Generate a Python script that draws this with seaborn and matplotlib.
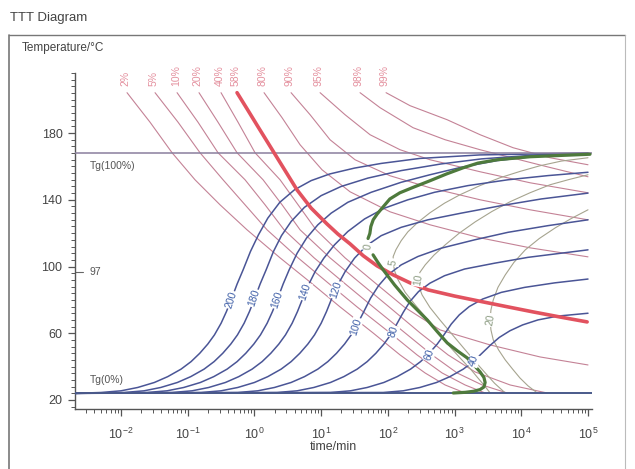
import numpy as np
import matplotlib
matplotlib.use('Agg')
import matplotlib.pyplot as plt
import seaborn as sns
from matplotlib.lines import Line2D
from matplotlib.ticker import LogLocator, MultipleLocator, FixedLocator, NullFormatter

sns.set_theme(style='white')
plt.rcParams['font.family'] = ['Liberation Sans', 'DejaVu Sans']
plt.rcParams['mathtext.default'] = 'regular'

# ---------------- data (log10 time / min, temperature / degC) ----------------
TG0 = 24
TG100 = 168
TGEL = 97

conv_labels = ['2%', '5%', '10%', '20%', '40%', '58%', '80%', '90%', '95%', '98%', '99%']
conv_2_logt = [-1.91, -1.565, -1.235, -0.891, -0.516, -0.111, 0.384, 0.849, 1.283, 1.778, 2.183, 2.558, 2.858, 3.158]
conv_2_T = [204.2, 186.5, 168.2, 152, 137, 122, 105.2, 90.2, 75.8, 60.2, 47, 36.2, 29, 24.2]
conv_5_logt = [-1.49, -1.145, -0.816, -0.471, -0.141, 0.189, 0.654, 1.103, 1.538, 2.033, 2.438, 2.813, 3.158, 3.458]
conv_5_T = [204.2, 186.5, 168.2, 152, 137, 122, 105.2, 90.2, 75.8, 60.2, 47, 36.2, 29, 24.2]
conv_10_logt = [-1.16, -0.846, -0.546, -0.141, 0.159, 0.444, 0.894, 1.343, 1.778, 2.258, 2.663, 3.038, 3.413, 3.788]
conv_10_T = [204.2, 186.5, 168.2, 152, 137, 122, 105.2, 90.2, 75.8, 60.2, 47, 36.2, 29, 24.2]
conv_20_logt = [-0.831, -0.546, -0.261, 0.129, 0.414, 0.684, 1.133, 1.583, 2.018, 2.483, 2.903, 3.308, 3.833, 4.387]
conv_20_T = [204.2, 186.5, 168.2, 152, 137, 122, 105.2, 90.2, 75.8, 60.2, 47, 36.8, 29, 24.2]
conv_40_logt = [-0.501, -0.246, 0.009, 0.384, 0.654, 0.924, 1.358, 1.808, 2.243, 2.783, 3.533, 4.282, 5.0]
conv_40_T = [204.2, 186.5, 168.2, 152, 137, 122, 105.2, 90.2, 75.8, 62, 53, 45.8, 41]
conv_58_logt = [-0.261, -0.1, 0.05, 0.234, 0.43, 0.639, 0.85, 1.088, 1.25, 1.433, 1.63, 1.838, 2.08,
                2.333, 2.603, 3.0, 3.427, 3.8, 4.177, 4.6, 4.987]
conv_58_T = [204.2, 193.8, 184, 172.1, 159.4, 145.9, 135, 125.5, 119.5, 113.6, 106.5, 100.4, 95,
             90.2, 86, 82.3, 78.8, 75.8, 72.8, 69.6, 66.8]
conv_80_logt = [0.144, 0.414, 0.684, 1.013, 1.433, 2.033, 2.633, 3.383, 4.132, 5.0]
conv_80_T = [204.2, 189.2, 173, 158, 144.8, 132.8, 125, 117.2, 111.2, 105.8]
conv_90_logt = [0.549, 0.834, 1.133, 1.508, 2.033, 2.633, 3.383, 4.132, 5.0]
conv_90_T = [204.2, 191, 176, 164, 154.4, 147.2, 140, 134, 128]
conv_95_logt = [0.984, 1.358, 1.733, 2.183, 2.633, 3.383, 4.132, 5.0]
conv_95_T = [204.2, 191, 179, 170, 164, 156.8, 150.2, 144.2]
conv_98_logt = [1.583, 1.883, 2.378, 2.858, 3.383, 4.387, 5.0]
conv_98_T = [204.2, 195.2, 183.2, 176, 170, 159.8, 153.8]
conv_99_logt = [1.973, 2.333, 2.888, 3.383, 3.878, 4.432, 5.0]
conv_99_T = [204.2, 196.4, 188, 179, 171.2, 165.2, 161]

# Tg evolution for isothermal cure temperatures
cure_labels = ['200', '180', '160', '140', '120', '100', '80', '60', '40']
tg_200_logt = [-2.69, -2.3, -2.0, -1.75, -1.5, -1.3, -1.1, -0.95, -0.82, -0.7, -0.6, -0.5, -0.42, -0.34,
               -0.26, -0.17, -0.06, 0.06, 0.2, 0.38, 0.6, 0.85, 1.13, 1.5, 1.9, 2.48, 3.38, 5.0]
tg_200_T = [24, 24.5, 25.5, 27.5, 30.5, 34, 38.5, 43, 48, 53.5, 59, 66, 73, 81,
            89.5, 98, 109, 119, 129, 138.5, 146, 151.5, 155.5, 159, 161.8, 164.8, 166.9, 168]
tg_180_logt = [-2.69, -1.955, -1.655, -1.405, -1.155, -0.955, -0.755, -0.605, -0.475, -0.355, -0.255,
               -0.155, -0.075, 0.005, 0.085, 0.175, 0.285, 0.405, 0.55, 0.75, 1.0, 1.3, 1.7, 2.2,
               2.8, 3.4, 4.2, 5.0]
tg_180_T = [24, 24.5, 25.5, 27.5, 30.5, 34, 38.5, 43, 48, 53.5, 59, 66, 73, 81, 89.5, 98, 109, 118.5,
            127, 135.5, 142.5, 148, 153, 157.5, 161.5, 164.5, 166.8, 168]
tg_160_logt = [-2.69, -1.61, -1.31, -1.06, -0.81, -0.61, -0.41, -0.26, -0.13, -0.01, 0.09, 0.19, 0.27,
               0.35, 0.43, 0.52, 0.64, 0.78, 0.95, 1.15, 1.4, 1.75, 2.2, 2.63, 3.1, 3.64, 4.3, 5.0]
tg_160_T = [24, 24.5, 25.5, 27.5, 30.5, 34, 38.5, 43, 48, 53.5, 59, 66, 73, 81, 89.5, 98, 108, 117,
            125, 132, 138.5, 144.5, 150.5, 155, 159.5, 163.5, 166.5, 167.5]
tg_140_logt = [-2.69, -1.235, -0.935, -0.685, -0.435, -0.235, -0.035, 0.115, 0.245, 0.365, 0.465,
               0.565, 0.645, 0.725, 0.81, 0.91, 1.04, 1.2, 1.4, 1.65, 1.95, 2.3, 2.7, 3.2, 3.8, 4.4, 5.0]
tg_140_T = [24, 24.5, 25.5, 27.5, 30.5, 34, 38.5, 43, 48, 53.5, 59, 66, 73, 81, 89, 97, 105, 113,
            121, 128.5, 135, 140, 144.5, 148.5, 152, 154.5, 156.5]
tg_120_logt = [-2.69, -0.8, -0.5, -0.25, 0.0, 0.2, 0.4, 0.55, 0.68, 0.8, 0.9, 1.0, 1.08, 1.16, 1.25,
               1.36, 1.5, 1.68, 1.9, 2.2, 2.6, 3.1, 3.7, 4.3, 5.0]
tg_120_T = [24, 24.5, 25.5, 27.5, 30.5, 34, 38.5, 43, 48, 53.5, 59, 66, 73, 81, 89, 97, 105, 112.5,
            118.5, 123.5, 128, 132, 136.5, 140.5, 144]
tg_100_logt = [-2.69, -0.25, 0.05, 0.3, 0.55, 0.75, 0.95, 1.1, 1.23, 1.35, 1.45, 1.55, 1.64, 1.74,
               1.86, 2.0, 2.2, 2.45, 2.8, 3.3, 3.8, 4.4, 5.0]
tg_100_T = [24, 24.5, 25.5, 27.5, 30.5, 34, 38.5, 43, 48, 53.5, 59, 66, 73, 81, 88.5, 95, 101, 106,
            111, 116, 120.5, 124.5, 128]
tg_80_logt = [-2.69, 0.34, 0.64, 0.89, 1.14, 1.34, 1.54, 1.69, 1.82, 1.94, 2.04, 2.14, 2.23, 2.33,
              2.46, 2.63, 2.85, 3.15, 3.6, 4.1, 4.6, 5.0]
tg_80_T = [24, 24.5, 25.5, 27.5, 30.5, 34, 38.5, 43, 48, 53.5, 59, 66, 72.5, 79, 85, 90, 94.5, 98.5,
           102, 105.5, 108, 110]
tg_60_logt = [-2.69, 1.14, 1.44, 1.69, 1.94, 2.14, 2.34, 2.49, 2.62, 2.74, 2.84, 2.95, 3.07, 3.22,
              3.42, 3.7, 4.05, 4.5, 5.0]
tg_60_T = [24, 24.5, 25.5, 27.5, 30.5, 34, 38.5, 43, 48, 53.5, 59, 65.5, 71, 76, 80.5, 84.5, 87.5,
           90.2, 92.5]
tg_40_logt = [-2.69, 1.93, 2.23, 2.48, 2.73, 2.93, 3.13, 3.28, 3.41, 3.54, 3.67, 3.83, 4.02, 4.25,
              4.55, 5.0]
tg_40_T = [24, 24.5, 25.5, 27.5, 30.5, 34, 38.5, 43, 48, 53, 57.5, 61.5, 65, 68, 70.3, 72]
cure_label_logt = [-0.35, 0.0, 0.34, 0.76, 1.22, 1.52, 2.08, 2.62, 3.29]
cure_label_T = [80, 81, 80, 85, 86, 64, 61, 47, 43.5]

# vitrification curve (Tg - T = 0) and thin contours (Tg - T = 5, 10, 20)
vit_top_logt = [5.03, 4.6, 4.13, 3.64, 3.35, 3.13, 2.88, 2.63, 2.4, 2.18, 2.03, 1.93, 1.84, 1.78,
                1.745, 1.73, 1.703]
vit_top_T = [167.3, 166.6, 165.8, 164, 162, 159.2, 155.5, 151.4, 147.8, 144.2, 140.5, 135.8, 131.5,
             128, 124, 119.8, 116.8]
vit_low_logt = [1.778, 1.85, 1.93, 2.1, 2.29, 2.44, 2.59, 2.74, 2.89, 3.04, 3.19, 3.3, 3.383, 3.44,
                3.458, 3.44, 3.38, 3.28, 3.16, 2.98]
vit_low_T = [107, 102.5, 98, 89, 80, 74, 68, 61, 54.2, 49.5, 45.2, 40.5, 36.8, 33.5, 30.5, 27.8,
             26.2, 25.2, 24.6, 24.2]
dT_labels = ['0', '5', '10', '20']
dT5_logt = [5.0, 4.6, 4.28, 3.98, 3.68, 3.38, 3.08, 2.85, 2.63, 2.45, 2.3, 2.2, 2.12, 2.08, 2.078,
            2.1, 2.153, 2.26, 2.41, 2.6, 2.78, 2.95, 3.11, 3.24, 3.35, 3.45, 3.533]
dT5_T = [165.2, 163.2, 160.4, 157, 153.2, 148.5, 143, 138, 132.2, 126.5, 120.8, 115.5, 110, 106,
         102.8, 97.5, 92, 84.5, 77, 68, 59, 51, 44, 38.5, 33.2, 28.5, 24.2]
dT10_logt = [5.0, 4.72, 4.43, 4.13, 3.83, 3.56, 3.31, 3.07, 2.86, 2.69, 2.56, 2.48, 2.453, 2.47,
             2.513, 2.63, 2.78, 2.97, 3.16, 3.31, 3.46, 3.6, 3.76]
dT10_T = [155, 152.2, 149, 144.2, 138.8, 133, 126.8, 120, 113, 106.8, 101, 96.5, 92, 87.5, 83,
          75.5, 68, 59, 50, 43, 36.2, 30, 24.2]
dT20_logt = [5.0, 4.75, 4.51, 4.27, 4.06, 3.89, 3.76, 3.65, 3.58, 3.545, 3.533, 3.545, 3.58, 3.66,
             3.76, 3.87, 3.98, 4.1, 4.24]
dT20_T = [134, 128.8, 123.2, 116.8, 110, 102.5, 95, 87.5, 80, 74, 68, 62, 56, 50, 44, 38.5, 33.2,
          28.5, 24.2]
dT_label_logt = [1.70, 2.08, 2.453, 3.533]
dT_label_T = [112, 102.5, 92, 68]

# ---------------- figure ----------------
fig = plt.figure(figsize=(6.35, 4.69), dpi=100)
ax = fig.add_axes([75 / 635, 1 - 409 / 469, (592 - 75) / 635, (409 - 73) / 469])
ax.set_xscale('log')

PINK = '#c48296'
BLUE = '#4a5596'
RED = '#e2525f'
GREEN = '#4e7a3c'
GREY = '#a6a48f'


def curve(lt, T, color, lw, z, ls='-'):
    sns.lineplot(x=10 ** np.asarray(lt, float), y=np.asarray(T, float), sort=False,
                 estimator=None, color=color, linewidth=lw, linestyle=ls, ax=ax,
                 legend=False, zorder=z)


conv_logt = [conv_2_logt, conv_5_logt, conv_10_logt, conv_20_logt, conv_40_logt, conv_58_logt,
             conv_80_logt, conv_90_logt, conv_95_logt, conv_98_logt, conv_99_logt]
conv_T = [conv_2_T, conv_5_T, conv_10_T, conv_20_T, conv_40_T, conv_58_T,
          conv_80_T, conv_90_T, conv_95_T, conv_98_T, conv_99_T]
for lab, lt, T in zip(conv_labels, conv_logt, conv_T):
    if lab == '58%':
        curve(lt, T, RED, 2.6, 4)
    else:
        curve(lt, T, PINK, 0.8, 2)
    ax.text(10 ** (lt[0] - 0.02), 208.5, lab, rotation=90, ha='center', va='bottom',
            fontsize=7.5, color='#e4909e', clip_on=False)

tg_logt = [tg_200_logt, tg_180_logt, tg_160_logt, tg_140_logt, tg_120_logt, tg_100_logt,
           tg_80_logt, tg_60_logt, tg_40_logt]
tg_T = [tg_200_T, tg_180_T, tg_160_T, tg_140_T, tg_120_T, tg_100_T, tg_80_T, tg_60_T, tg_40_T]
for lt, T in zip(tg_logt, tg_T):
    curve(lt, T, BLUE, 1.1, 3)
for lab, lt, T in zip(cure_labels, cure_label_logt, cure_label_T):
    ax.text(10 ** lt, T, lab, rotation=72, ha='center', va='center', fontsize=7.5,
            color='#4060a8', zorder=7,
            bbox=dict(boxstyle='square,pad=0.05', fc='white', ec='none'))

for lt, T in [(dT5_logt, dT5_T), (dT10_logt, dT10_T), (dT20_logt, dT20_T)]:
    curve(lt, T, GREY, 0.8, 2.5)
curve(vit_top_logt, vit_top_T, GREEN, 2.3, 5)
curve(vit_low_logt, vit_low_T, GREEN, 2.3, 5)
for lab, lt, T in zip(dT_labels, dT_label_logt, dT_label_T):
    ax.text(10 ** lt, T, lab, rotation=80, ha='center', va='center', fontsize=7.5,
            color='#8a9a80', zorder=7,
            bbox=dict(boxstyle='square,pad=0.1', fc='white', ec='none'))

ax.axhline(TG100, color='#8a7f9e', lw=1.1, zorder=3)
ax.axhline(TG0, color='#4a5a8a', lw=1.4, zorder=3)
ax.text(10 ** -2.47, TG100 - 5, 'Tg(100%)', fontsize=7.5, color='#555555', va='top', ha='left')
ax.text(10 ** -2.47, TG0 + 5, 'Tg(0%)', fontsize=7.5, color='#555555', va='bottom', ha='left')
ax.plot([10 ** -2.69, 10 ** -2.57], [TGEL, TGEL], color='#666666', lw=0.8, clip_on=False)
ax.text(10 ** -2.48, TGEL, str(TGEL), fontsize=7.5, color='#555555', va='center', ha='left')

ax.set_xlim(10 ** -2.69, 10 ** 5.06)
ax.set_ylim(14.6, 216)
ax.set_yticks([20, 60, 100, 140, 180])
ax.yaxis.set_minor_locator(MultipleLocator(4))
ax.xaxis.set_major_locator(FixedLocator([1e-2, 1e-1, 1e0, 1e1, 1e2, 1e3, 1e4, 1e5]))
ax.xaxis.set_minor_locator(LogLocator(base=10, subs=np.arange(2, 10)))
ax.xaxis.set_minor_formatter(NullFormatter())
ax.tick_params(which='major', direction='out', length=5, width=0.9, color='#555555',
               labelsize=9, labelcolor='#444444', left=True, bottom=True, pad=4)
ax.tick_params(which='minor', direction='out', length=3, width=0.7, color='#555555',
               left=True, bottom=True)
ax.tick_params(axis='x', which='major', pad=8)
for s in ['top', 'right']:
    ax.spines[s].set_visible(False)
for s in ['left', 'bottom']:
    ax.spines[s].set_color('#555555')
    ax.spines[s].set_linewidth(1.0)
ax.set_xlabel('')
ax.set_ylabel('')
ax.set_facecolor('white')

fig.text(333 / 635, 1 - 447 / 469, 'time/min', ha='center', va='center', fontsize=9, color='#444444')
fig.text(22 / 635, 1 - 48 / 469, 'Temperature/°C', ha='left', va='center', fontsize=8.5, color='#444444')
fig.text(10 / 635, 1 - 18 / 469, 'TTT Diagram', ha='left', va='center', fontsize=9.5, color='#444444')

fx0, fx1, fy0 = 9 / 635, 625 / 635, 1 - 35 / 469
fig.add_artist(Line2D([fx0, fx1], [fy0, fy0], color='#777777', lw=1.0))
fig.add_artist(Line2D([fx0, fx0], [0, fy0], color='#777777', lw=1.2))
fig.add_artist(Line2D([fx1, fx1], [0, fy0], color='#bbbbbb', lw=0.8))

fig.savefig('out.png', dpi=100, facecolor='white')
